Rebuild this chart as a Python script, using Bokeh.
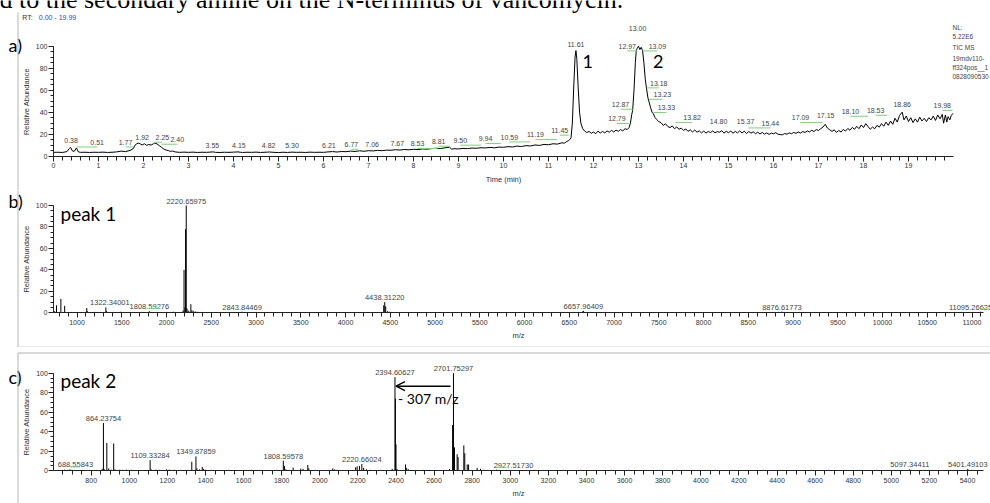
import numpy as np
from bokeh.plotting import figure
from bokeh.models import (Range1d, LinearAxis, SingleIntervalTicker, ColumnDataSource,
                          Arrow, OpenHead)
from bokeh.layouts import column
from bokeh.core.properties import value
from bokeh.embed import file_html
from bokeh.resources import INLINE

# ---------------- data ----------------
# a) total ion chromatogram (time in min, relative abundance in %)
rt_min = [0.00, 0.10, 0.20, 0.30, 0.35, 0.38, 0.42, 0.46, 0.51, 0.55, 0.60, 0.70, 0.80, 0.90,
          1.00, 1.10, 1.20, 1.30, 1.40, 1.50, 1.60, 1.70, 1.77, 1.82, 1.88, 1.92, 1.97, 2.02,
          2.07, 2.12, 2.17, 2.22, 2.25, 2.30, 2.35, 2.40, 2.45, 2.50, 2.55, 2.60, 2.65, 2.70,
          2.80, 2.90, 3.00, 3.10, 3.20, 3.30, 3.40, 3.50, 3.55, 3.60, 3.70, 3.80, 3.90, 4.00,
          4.10, 4.15, 4.20, 4.30, 4.40, 4.50, 4.60, 4.70, 4.80, 4.90, 5.00, 5.10, 5.20, 5.30,
          5.40, 5.50, 5.60, 5.70, 5.80, 5.90, 6.00, 6.10, 6.20, 6.30, 6.40, 6.50, 6.60, 6.70,
          6.80, 6.90, 7.00, 7.10, 7.20, 7.30, 7.40, 7.50, 7.60, 7.70, 7.80, 7.90, 8.00, 8.10,
          8.20, 8.30, 8.40, 8.50, 8.60, 8.70, 8.80, 8.85, 8.90, 9.00, 9.10, 9.20, 9.30, 9.40,
          9.50, 9.60, 9.70, 9.80, 9.90, 10.00, 10.10, 10.20, 10.30, 10.40, 10.50, 10.60, 10.70,
          10.80, 10.90, 11.00, 11.10, 11.20, 11.30, 11.35, 11.40, 11.45, 11.50, 11.53, 11.56,
          11.59, 11.61, 11.63, 11.66, 11.69, 11.72, 11.76, 11.80, 11.85, 11.90, 11.95, 12.00,
          12.05, 12.10, 12.15, 12.20, 12.25, 12.30, 12.35, 12.40, 12.45, 12.50, 12.55, 12.60,
          12.65, 12.70, 12.75, 12.79, 12.82, 12.85, 12.87, 12.90, 12.93, 12.95, 12.97, 13.00,
          13.03, 13.06, 13.09, 13.12, 13.15, 13.18, 13.21, 13.23, 13.27, 13.30, 13.33, 13.37,
          13.40, 13.45, 13.50, 13.55, 13.60, 13.65, 13.70, 13.75, 13.80, 13.85, 13.90, 13.95,
          14.00, 14.05, 14.10, 14.15, 14.20, 14.25, 14.30, 14.35, 14.40, 14.45, 14.50, 14.55,
          14.60, 14.65, 14.70, 14.75, 14.80, 14.85, 14.90, 14.95, 15.00, 15.05, 15.10, 15.15,
          15.20, 15.25, 15.30, 15.35, 15.40, 15.45, 15.50, 15.55, 15.60, 15.65, 15.70, 15.75,
          15.80, 15.85, 15.90, 15.95, 16.00, 16.05, 16.10, 16.15, 16.20, 16.25, 16.30, 16.35,
          16.40, 16.45, 16.50, 16.55, 16.60, 16.65, 16.70, 16.75, 16.80, 16.85, 16.90, 16.95,
          17.00, 17.05, 17.10, 17.15, 17.20, 17.25, 17.30, 17.35, 17.40, 17.45, 17.50, 17.55,
          17.60, 17.65, 17.70, 17.75, 17.80, 17.85, 17.90, 17.95, 18.00, 18.05, 18.10, 18.15,
          18.20, 18.25, 18.30, 18.35, 18.40, 18.45, 18.50, 18.55, 18.60, 18.65, 18.70, 18.75,
          18.80, 18.86, 18.90, 18.95, 19.00, 19.05, 19.10, 19.15, 19.20, 19.25, 19.30, 19.35,
          19.40, 19.45, 19.50, 19.55, 19.60, 19.65, 19.70, 19.75, 19.78, 19.82, 19.85, 19.88,
          19.92, 19.95, 19.99]
rt_abundance = [3.5, 3.6, 3.4, 4.2, 7.0, 8.0, 4.8, 4.4, 7.5, 4.0, 3.5, 3.6, 3.4, 3.6,
                3.5, 3.7, 3.4, 3.6, 3.9, 4.6, 4.2, 5.2, 6.8, 10.5, 12.0, 11.4, 10.2, 11.3,
                9.9, 10.6, 10.1, 11.3, 12.0, 11.2, 9.6, 8.1, 6.6, 5.6, 5.1, 4.4, 4.7, 3.9,
                3.5, 3.7, 3.5, 3.7, 3.4, 3.6, 3.5, 3.8, 3.9, 3.5, 3.4, 3.6, 3.5, 3.7,
                3.9, 3.6, 3.4, 3.6, 3.5, 3.7, 3.4, 3.6, 3.8, 3.5, 3.3, 3.6, 3.4, 3.7,
                3.5, 3.6, 3.4, 3.7, 3.5, 3.6, 3.5, 3.9, 4.2, 3.8, 4.3, 4.1, 4.6, 4.3,
                4.9, 4.5, 5.0, 4.8, 5.3, 5.0, 5.5, 5.4, 5.9, 5.6, 6.1, 5.8, 6.3, 6.0,
                6.6, 6.4, 6.9, 7.2, 7.0, 7.6, 8.2, 6.4, 6.8, 6.6, 7.1, 6.9, 7.4, 7.2,
                7.7, 7.5, 8.0, 7.6, 8.3, 8.1, 8.7, 8.4, 9.2, 8.8, 9.6, 9.3, 10.2,
                9.8, 10.7, 10.4, 11.3, 11.0, 12.2, 11.8, 13.2, 14.2, 16.5, 30.0, 62.0,
                90.0, 96.0, 88.0, 62.0, 40.0, 30.0, 25.0, 23.0, 21.5, 22.5, 20.8, 22.0,
                20.5, 22.8, 21.0, 22.5, 21.2, 23.0, 21.8, 23.5, 22.0, 23.8, 22.6, 24.2,
                23.0, 25.0, 24.2, 26.0, 30.0, 38.0, 41.5, 60.0, 85.0, 96.0, 98.0, 100.0,
                97.0, 99.0, 96.0, 85.0, 70.0, 61.0, 53.0, 50.0, 44.0, 40.0, 38.5, 35.0,
                33.5, 31.5, 30.5, 28.0, 29.5, 27.0, 26.0, 27.5, 25.0, 26.5, 24.5, 25.5,
                23.5, 24.8, 22.6, 24.0, 22.0, 23.8, 21.8, 23.0, 21.2, 22.8, 21.0, 22.5,
                21.5, 23.0, 21.2, 22.4, 21.8, 23.2, 21.0, 22.6, 21.4, 22.8, 20.9, 22.5,
                21.2, 23.0, 21.0, 22.8, 20.6, 22.4, 21.0, 22.2, 20.4, 21.8, 20.2, 21.6,
                20.0, 21.2, 19.8, 21.0, 20.4, 21.4, 20.0, 19.6, 19.5, 20.6, 20.0, 21.2,
                20.4, 21.6, 20.8, 22.0, 21.0, 22.4, 21.6, 23.0, 22.0, 23.6, 22.4, 24.2,
                23.4, 25.0, 26.5, 29.0, 25.5, 24.0, 22.5, 24.0, 21.6, 23.4, 22.0, 24.4,
                22.8, 25.2, 23.6, 26.2, 24.4, 27.2, 25.0, 28.4, 26.0, 29.6, 27.0, 24.5,
                26.5, 25.0, 28.0, 26.4, 29.6, 27.2, 31.0, 28.0, 32.0, 29.0, 34.5, 31.0,
                37.0, 40.0, 33.0, 36.5, 31.5, 35.0, 30.5, 34.0, 31.0, 35.5, 32.0, 34.5,
                31.5, 35.0, 33.0, 36.5, 32.5, 37.5, 34.0, 38.0, 30.0, 37.5, 31.0, 36.0,
                33.0, 37.0, 39.0]

# labelled retention times, and where each label sits (shift in min, level in %)
rt_labels = [0.38, 0.51, 1.77, 1.92, 2.25, 2.40, 3.55, 4.15, 4.82, 5.30, 6.21, 6.77, 7.06, 7.67,
             8.53, 8.81, 9.50, 9.94, 10.59, 11.19, 11.45, 11.61, 12.79, 12.87, 12.97, 13.00,
             13.09, 13.18, 13.23, 13.33, 13.82, 14.80, 15.37, 15.44, 17.09, 17.15, 18.10, 18.53,
             18.86, 19.98]
rt_label_shift = [0.01, 0.46, -0.17, 0.05, 0.17, 0.35, -0.02, -0.03, -0.04, 0.0, -0.09, -0.15,
                  0.02, -0.03, -0.44, -0.25, -0.46, -0.34, -0.46, -0.48, -0.2, 0.0, -0.27, -0.27,
                  -0.22, -0.02, 0.33, 0.27, 0.30, 0.29, 0.37, -0.02, 0.01, 0.49, -0.49, 0.01,
                  -0.39, -0.26, 0.0, -0.23]
rt_label_level = [14.3, 12.7, 12.7, 17.3, 17.0, 15.2, 9.7, 9.7, 9.7, 9.7, 9.7, 10.6, 10.6, 11.3,
                  11.3, 13.4, 14.3, 15.8, 17.3, 19.4, 23.4, 101.5, 34.0, 47.0, 100.0, 115.8,
                  100.0, 66.4, 56.0, 44.0, 35.0, 31.8, 31.8, 30.0, 35.0, 36.7, 40.6, 41.5,
                  47.0, 46.0]
rt_header = ["NL:", "5.22E6", "TIC  MS", "19mdv110-", "ff324pos__1", "0828090530"]

# b) mass spectrum of peak 1
mz_b = [750, 771, 820, 862, 1109, 1116, 1200, 1322.34001, 1330, 1490, 1560, 1650, 1808.59276,
        2075, 2185, 2196, 2206, 2213, 2220.65975, 2230, 2248, 2272, 2284, 2300, 2320, 2340,
        2377, 2560, 2700, 2843.84469, 3000, 3400, 4427, 4438.31220, 4449, 4470, 4490, 6650,
        6657.96409, 6672, 8876.61773, 8895, 11095.26625]
int_b = [1.5, 7, 13, 6.5, 4.5, 1.5, 0.8, 5, 1.5, 1, 0.6, 0.5, 1.5,
         1, 2, 40, 5, 78, 100, 4, 2, 8, 2.5, 1.5, 1.2, 1,
         0.8, 0.5, 0.5, 1, 0.4, 0.4, 7, 10, 6, 1.5, 1, 1.2,
         1.8, 0.8, 1.2, 0.7, 1]
label_mz_b = [1322.34001, 1808.59276, 2220.65975, 2843.84469, 4438.31220, 6657.96409,
              8876.61773, 11095.26625]
label_shift_b = [4, 0, 0, 0, 0, 0, 0, -10]
green_b = [1808.59276, 11095.26625]

# c) mass spectrum of peak 2
mz_c = [640, 660, 675, 688.55843, 700, 720, 858, 864.23754, 870, 882, 892, 905, 918, 925, 950,
        965, 985, 1010, 1040, 1109.33284, 1115, 1140, 1160, 1195, 1210, 1235, 1328, 1349.87859,
        1355, 1368, 1383, 1390, 1400, 1640, 1808.59578, 1815, 1822, 1860, 1900, 1912, 1937,
        1942, 2068, 2078, 2090, 2188, 2196, 2208, 2220.66024, 2230, 2245, 2265, 2380,
        2394.60627, 2397, 2400, 2405, 2450, 2456, 2465, 2546, 2681, 2697, 2701.75297, 2707,
        2721, 2726, 2756, 2761, 2774, 2781, 2826, 2844, 2860, 2927.51730, 2940, 5097.34411,
        5401.49103, 5420, 5450]
int_c = [0.8, 1.2, 1.0, 1.5, 1.0, 0.8, 2, 49, 1.5, 28.5, 2.5, 1.2, 28, 1.5, 1.2,
         1.0, 1.2, 1, 0.8, 11, 1.5, 1.2, 1, 1.5, 1.2, 1, 9.2, 14.7,
         2.5, 1.5, 4, 2, 1, 1, 10.4, 5, 1.5, 3.2, 2.2, 2, 6,
         2.5, 2.5, 1.5, 1, 3.5, 4.5, 5, 7, 3, 1.5, 1, 2,
         96, 74, 27, 2, 6.5, 3, 1.5, 1, 2, 47, 100, 24,
         17, 14, 26, 18, 6.5, 6.5, 3, 2, 1, 1.2, 0.8, 1.5,
         2, 1, 0.8]
label_mz_c = [688.55843, 864.23754, 1109.33284, 1349.87859, 1808.59578, 2220.66024,
              2394.60627, 2701.75297, 2927.51730, 5097.34411, 5401.49103]
label_shift_c = [5.5, 0, 0, 0, 0, 0, 0, 0, 17, 0, 0]
green_c = [688.55843, 2927.51730]
loss_pair = [2701.75297, 2394.60627]

# ---------------- helpers ----------------
W = 990
SANS = "Liberation Sans"
CAL = "Lato"
INK = "#222222"
LBL = "#444444"
GREEN = "#7fcf7f"
BOX = "#b4b4b4"


def xr(d0, p0, s):
    return Range1d(d0 - p0 / s, d0 + (W - p0) / s)


def yr(v0, p0, s, h):
    return Range1d(v0 - (h - p0) / s, v0 + p0 / s)


def make_fig(h, x_range, y_range):
    p = figure(width=W, height=h, x_range=x_range, y_range=y_range, output_backend="svg",
               toolbar_location=None, x_axis_location=None, y_axis_location=None,
               min_border=0, min_border_left=0, min_border_right=0, min_border_top=0,
               min_border_bottom=0)
    p.outline_line_color = None
    p.background_fill_color = "white"
    p.border_fill_color = "white"
    p.xgrid.visible = False
    p.ygrid.visible = False
    p.extra_x_ranges = {"px": Range1d(0, W)}
    p.extra_y_ranges = {"py": Range1d(h, 0)}
    return p


def style_axis(ax, tout, mout):
    ax.axis_line_color = INK
    ax.major_tick_line_color = INK
    ax.minor_tick_line_color = INK
    ax.major_tick_in = 0
    ax.major_tick_out = tout
    ax.minor_tick_in = 0
    ax.minor_tick_out = mout
    ax.major_label_text_font = SANS
    ax.major_label_text_font_size = "7px"
    ax.major_label_text_color = "#333333"
    ax.major_label_standoff = 2
    ax.axis_label_text_font = SANS
    ax.axis_label_text_font_size = "7.5px"
    ax.axis_label_text_font_style = "normal"
    ax.axis_label_text_color = "#333333"
    ax.axis_label_standoff = 3


def px_text(p, x, y, t, size, font=CAL, color="black", align="left"):
    p.text(x=[x], y=[y], text=[t], x_range_name="px", y_range_name="py",
           text_font=value(font), text_font_size=size, text_color=color,
           text_align=align, text_baseline="middle")


def px_line(p, xs, ys, color):
    p.line(x=xs, y=ys, x_range_name="px", y_range_name="py", line_color=color, line_width=1)


def add_axes(p, x0, x1, xint, xminor, ylabel="Relative Abundance", xlabel="m/z"):
    xa = LinearAxis(fixed_location=0, bounds=(x0, x1),
                    ticker=SingleIntervalTicker(interval=xint, num_minor_ticks=xminor),
                    axis_label=xlabel)
    style_axis(xa, 5, 4)
    p.add_layout(xa, "below")
    ya = LinearAxis(fixed_location=x0, bounds=(0, 100),
                    ticker=SingleIntervalTicker(interval=20, num_minor_ticks=4),
                    axis_label=ylabel)
    style_axis(ya, 5, 3)
    ya.major_label_standoff = 1
    ya.axis_label_standoff = 2
    p.add_layout(ya, "left")
    if xlabel and "Time" in xlabel:
        xa.axis_label_text_color = "#2a2a55"


def spectrum(p, mz, inten, label_mz, label_shift, green, scale):
    p.segment(x0=mz, y0=[0] * len(mz), x1=mz, y1=inten, line_color="black", line_width=1)
    lut = dict(zip(mz, inten))
    ly = [lut[m] for m in label_mz]
    src = ColumnDataSource(dict(x=label_mz, y=ly, t=[f"{m:.5f}" for m in label_mz],
                                dx=label_shift))
    p.text(x="x", y="y", text="t", source=src, x_offset="dx", y_offset=-2,
           text_font=value(SANS), text_font_size="7.5px", text_color=LBL,
           text_align="center", text_baseline="bottom")
    for m in green:
        p.segment(x0=[m], y0=[lut[m] + 2.5], x1=[m + 10 / scale], y1=[lut[m] + 2.5],
                  line_color=GREEN, line_width=1)


# ---------------- panel a ----------------
hA = 190
pA = make_fig(hA, xr(0, 53, 45), yr(0, 155.7, 1.1, hA))
add_axes(pA, 0, 19.99, 1, 5, xlabel="Time (min)")
pA.line(rt_min, rt_abundance, line_color="black", line_width=1)

lab_x = [r + s for r, s in zip(rt_labels, rt_label_shift)]
for r, s, lv in zip(rt_labels, rt_label_shift, rt_label_level):
    if abs(s) >= 0.1:
        pA.segment(x0=[r], y0=[lv - 4.3], x1=[r + s], y1=[lv - 4.3], line_color=GREEN,
                   line_width=1)
pA.text(x=lab_x, y=rt_label_level, text=[f"{r:.2f}" for r in rt_labels],
        text_font=value(SANS), text_font_size="7px", text_color=LBL,
        text_align="center", text_baseline="middle")

# peak numbers
peak_rt = [11.61, 13.00]
pA.text(x=peak_rt, y=[86, 86], text=["1", "2"], x_offset=[6.5, 14.5],
        text_font=value(CAL), text_font_size="18px", text_color="black",
        text_align="left", text_baseline="middle")

# header text (cropped caption) and frame
px_text(pA, -1, -1, "d to the secondary amine on the N-terminus of vancomycin.", "26px",
        font="Liberation Serif")
px_text(pA, 8, 44, "a)", "18px")
px_text(pA, 21.7, 17.3, "RT:", "7px", font=SANS, color="#333333")
px_text(pA, 38.3, 17.3, "0.00 - 19.99", "7px", font=SANS, color="#2f3fd0")
for i, t in enumerate(rt_header):
    px_text(pA, 952, [26.5, 36, 47, 57.5, 66.5, 75.5][i], t, "6.5px", font=SANS,
            color="#444444")
px_line(pA, [17.5, 17.5], [12, hA], BOX)

# ---------------- panel b ----------------
hB = 157
sB = 0.0895
pB = make_fig(hB, xr(1000, 76.5, sB), yr(0, 122.3, 1.073, hB))
add_axes(pB, 737.4, 11128.5, 500, 5)
spectrum(pB, mz_b, int_b, label_mz_b, label_shift_b, green_b, sB)
px_text(pB, 8, 10, "b)", "18px")
px_text(pB, 60, 23, "peak 1", "19px")
px_line(pB, [17.5, 17.5], [0, 156.5], BOX)
px_line(pB, [17.5, W], [156.5, 156.5], "#d2d2d2")

# ---------------- panel c ----------------
hC = 156
sC = 0.1905
pC = make_fig(hC, xr(800, 90.7, sC), yr(0, 123.3, 0.976, hC))
add_axes(pC, 604, 5482, 200, 4)
spectrum(pC, mz_c, int_c, label_mz_c, label_shift_c, green_c, sC)
hi, lo = loss_pair
pC.add_layout(Arrow(end=OpenHead(size=9, line_width=1.4, line_color="black"),
                    x_start=hi - 3 / sC, y_start=86.7, x_end=lo + 1 / sC, y_end=86.7,
                    line_width=1.4, line_color="black"))
pC.text(x=[lo], y=[73.8], text=[f"- {round(hi - lo)} m/z"], x_offset=3,
        text_font=value(CAL), text_font_size="14px", text_color="black",
        text_align="left", text_baseline="middle")
px_text(pC, 8, 29, "c)", "18px")
px_text(pC, 60, 33, "peak 2", "19px")
px_line(pC, [17.5, 17.5], [5.5, hC], BOX)
px_line(pC, [17.5, W], [5.5, 5.5], BOX)

layout = column(pA, pB, pC, spacing=0)
open("out.html", "w").write(file_html(layout, INLINE))
